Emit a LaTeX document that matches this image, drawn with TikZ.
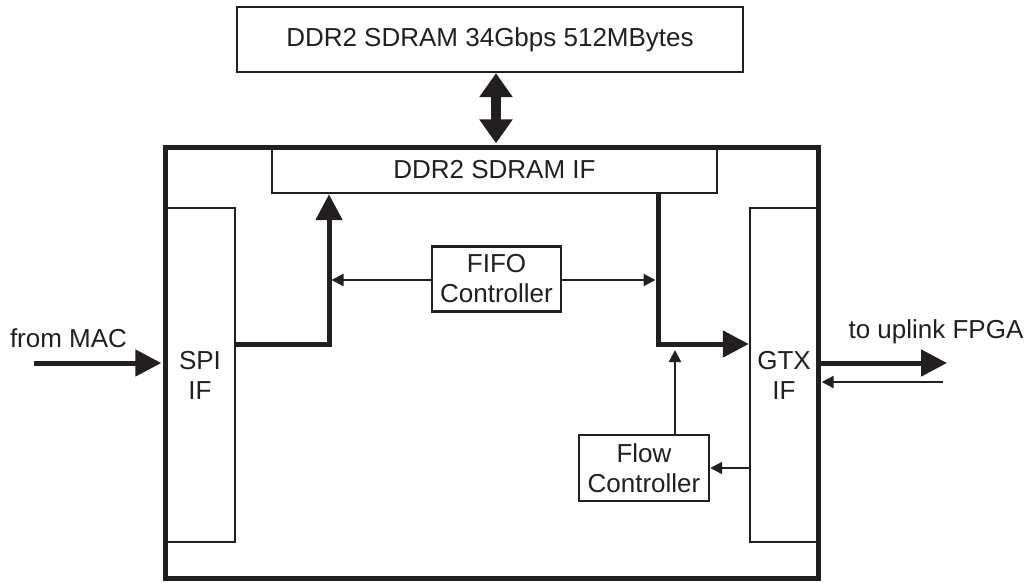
\documentclass[tikz,border=0pt]{standalone}
\usepackage{fontspec}
\setmainfont{Liberation Sans}
\usetikzlibrary{arrows.meta}
\definecolor{ink}{RGB}{35,31,32}
\begin{document}
\begin{tikzpicture}[x=1pt,y=-1pt,
  every node/.style={font=\fontsize{26}{30}\selectfont, text=ink},
  box/.style={draw=ink, line width=2.4pt, fill=white, inner sep=0pt, align=center, rectangle},
  outer/.style={draw=ink, line width=5pt},
  data/.style={draw=ink, line width=5pt, -{Triangle[length=26pt,width=26pt]}},
  thinarrow/.style={draw=ink, line width=2.2pt, -{Triangle[length=12pt,width=12pt]}},
  dbl/.style={draw=ink, line width=10pt, {Triangle[length=24pt,width=32pt]}-{Triangle[length=24pt,width=32pt]}},
  lbl/.style={inner sep=0pt}
]
\useasboundingbox (0,0) rectangle (1029,582);
% outer frame
\draw[outer] (165,147) rectangle (818,578);
% boxes
\node[box, minimum width=506pt, minimum height=65pt] (mem) at (490,39.5) {DDR2 SDRAM 34Gbps 512MBytes};
\node[box, minimum width=445pt, minimum height=46pt] (ddrif) at (494.5,170) {DDR2 SDRAM IF};
\node[box, minimum width=70pt, minimum height=334pt] (spi) at (200,375) {SPI\\IF};
\node[box, minimum width=68pt, minimum height=334pt] (gtx) at (784,375) {GTX\\IF};
\node[box, minimum width=129pt, minimum height=65pt] (fifo) at (496.5,279) {FIFO\\Controller};
\node[box, minimum width=130pt, minimum height=66pt] (flow) at (644,468) {Flow\\Controller};
% redraw outer frame edges over box borders
\draw[outer] (165,147) rectangle (818,578);
% coordinates
\coordinate (dx) at (496,0);
\coordinate (jl) at (329,344);
\coordinate (jr) at (658,344);
\coordinate (fu) at (675,344);
\coordinate (fl) at (0,280);
\coordinate (macin) at (34,363);
\coordinate (out) at (947,363);
\coordinate (ret) at (943,382);
% double arrow memory <-> IF
\draw[dbl, shorten >=2.5pt] (mem.south -| dx) -- (ddrif.north -| dx);
% data paths
\draw[data] (spi.east |- jl) -- (jl) -- (jl |- ddrif.south);
\draw[data] (jr |- ddrif.south) -- (jr) -- (gtx.west |- jr);
% FIFO controller arrows
\draw[thinarrow, shorten >=2.5pt] (fifo.west |- fl) -- (jl |- fl);
\draw[thinarrow, shorten >=2.5pt] (fifo.east |- fl) -- (jr |- fl);
% flow controller
\draw[thinarrow, shorten >=6pt] (flow.north -| fu) -- (fu);
\draw[thinarrow] (gtx.west |- flow.east) -- (flow.east);
% external
\draw[data, shorten >=2.5pt] (macin) -- (macin -| spi.west);
\draw[data] (gtx.east |- out) -- (out);
\draw[thinarrow, shorten >=2.5pt] (ret) -- (ret -| gtx.east);
% labels
\node[lbl] (lmac) at (68.5,338) {from MAC};
\node[lbl] (lup) at (936,332) {to uplink FPGA};
\end{tikzpicture}
\end{document}
